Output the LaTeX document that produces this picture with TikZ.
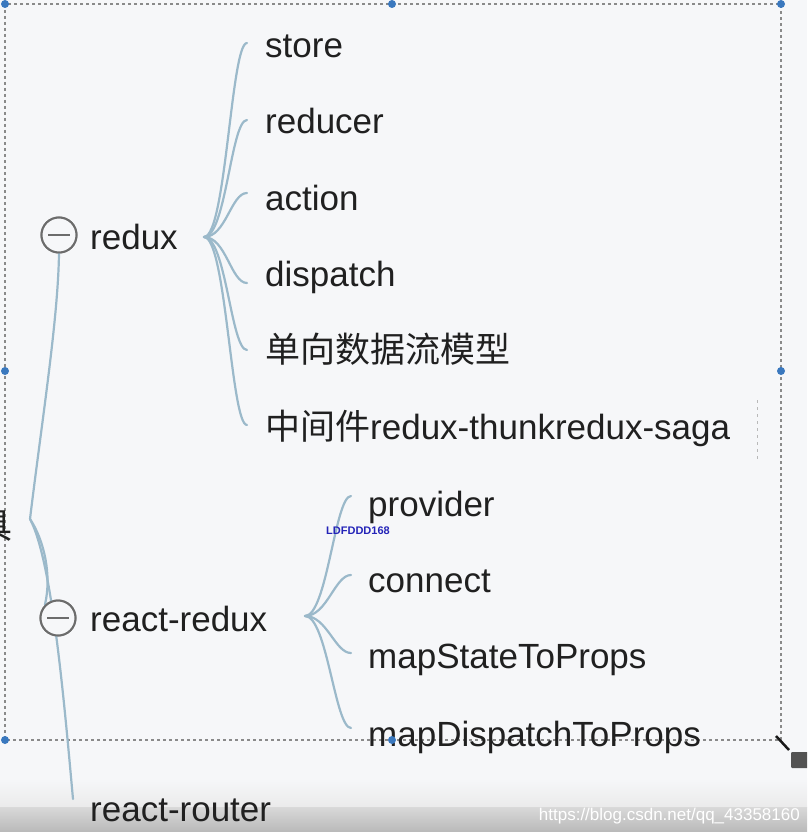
\documentclass[tikz,border=0pt]{standalone}
\usepackage{fontspec}
\setmainfont{Liberation Sans}
\newfontfamily\cjk{Noto Sans CJK SC}
\usetikzlibrary{calc}
\definecolor{bgc}{HTML}{F6F7F9}
\definecolor{brc}{HTML}{9BB9CA}
\definecolor{txc}{HTML}{202020}
\definecolor{hdl}{HTML}{3A78BE}
\definecolor{dsh}{HTML}{8A8A8A}
\definecolor{wmk}{HTML}{2424B8}
\tikzset{
  lbl/.style={anchor=base west, inner sep=0pt, text=txc, font=\fontsize{35}{40}\selectfont},
  br/.style={draw=brc, line width=2.2pt, line cap=round},
  minus/.style={circle, draw=gray!85!black, line width=2pt, minimum size=35pt, inner sep=0pt, fill=bgc},
  handle/.style={circle, fill=hdl, minimum size=8pt, inner sep=0pt},
  selbox/.style={draw=dsh, line width=1.2pt, dash pattern=on 3pt off 3pt}
}
\begin{document}
\begin{tikzpicture}[x=1pt,y=-1pt]
\useasboundingbox (0,0) rectangle (807,832);
\clip (0,0) rectangle (807,832);
\fill[bgc] (0,0) rectangle (807,832);
% bottom band
\shade[top color=bgc, bottom color=gray!16] (0,778) rectangle (807,807);
\shade[top color=gray!30, bottom color=gray!55] (0,807) rectangle (807,832);
% selection box
\draw[selbox] (5,4) rectangle (781,740);
\draw[draw=dsh!60, line width=1pt, dash pattern=on 3pt off 4pt] (757,400) -- (757,460);
% partial root label
\node[lbl, anchor=base east, font=\cjk\fontsize{35}{40}\selectfont] (root-lbl) at (13,538) {具};
\coordinate (root) at (30,519);
% main nodes
\node[minus] (c1) at (59,235) {};
\node[lbl] (rdx) at (90,249) {redux};
\node[minus] (c2) at (58,618) {};
\node[lbl] (rrx) at (90,631) {react-redux};
\node[lbl] (rrt) at (90,821) {react-router};
% trunk connectors (drawn behind circles)
\draw[br] (root) .. controls (42,420) and (58,320) .. (c1.south);
\draw[br] (root) .. controls (44,540) and (52,575) .. (c2.north west);
\draw[br] (root) .. controls (52,560) and (64,700) .. ($(rrt.base west)+(-17,-22)$);
% redraw circles on top
\node[minus] at (c1) {};
\draw[gray!85!black, line width=2pt] ([xshift=-11pt]c1.center) -- ([xshift=11pt]c1.center);
\node[minus] at (c2) {};
\draw[gray!85!black, line width=2pt] ([xshift=-11pt]c2.center) -- ([xshift=11pt]c2.center);
% redux children
\node[lbl] (s1) at (265,58) {store};
\node[lbl] (s2) at (265,134) {reducer};
\node[lbl] (s3) at (265,210) {action};
\node[lbl] (s4) at (265,286) {dispatch};
\node[lbl] (s5) at (265,362) {\cjk 单向数据流模型};
\node[lbl] (s6) at (265,439) {{\cjk 中间件}redux-thunkredux-saga};
\coordinate (ro) at (204,237);
\foreach \n/\dy in {s1/-15, s2/-14, s3/-17, s4/-3, s5/-12, s6/-14} {
  \coordinate (e) at ($(\n.base west)+(-18,\dy)$);
  \draw[br] (ro) .. controls ($(ro)+(22,0)$) and ($(e)+(-16,0)$) .. (e);
}
% react-redux children
\node[lbl] (t1) at (368,516) {provider};
\node[lbl] (t2) at (368,592) {connect};
\node[lbl] (t3) at (368,668) {mapStateToProps};
\node[lbl] (t4) at (368,746) {mapDispatchToProps};
\coordinate (rro) at (305,616);
\foreach \n/\dy in {t1/-20, t2/-17, t3/-15, t4/-18} {
  \coordinate (e) at ($(\n.base west)+(-17,\dy)$);
  \draw[br] (rro) .. controls ($(rro)+(22,0)$) and ($(e)+(-16,0)$) .. (e);
}
% watermark
\node[text=wmk, font=\bfseries\fontsize{11}{12}\selectfont, inner sep=0pt] (wm) at (358,531) {LDFDDD168};
% handles
\foreach \p [count=\i] in {(5,4),(392,4),(781,4),(5,371),(781,371),(5,740),(392,740)} {
  \node[handle] (h\i) at \p {};
}
% resize grip
\node[fill=gray!65!black, rounded corners=1pt, minimum width=18pt, minimum height=16pt, inner sep=0pt] (grip) at (800,760) {};
\draw[gray!20!black, line width=2.5pt] (776,736) -- (789,750);
% bottom watermark url
\node[text=white, font=\fontsize{17}{20}\selectfont, anchor=base east, inner sep=0pt] (url) at (800,820) {https://blog.csdn.net/qq\_43358160};
\end{tikzpicture}
\end{document}
